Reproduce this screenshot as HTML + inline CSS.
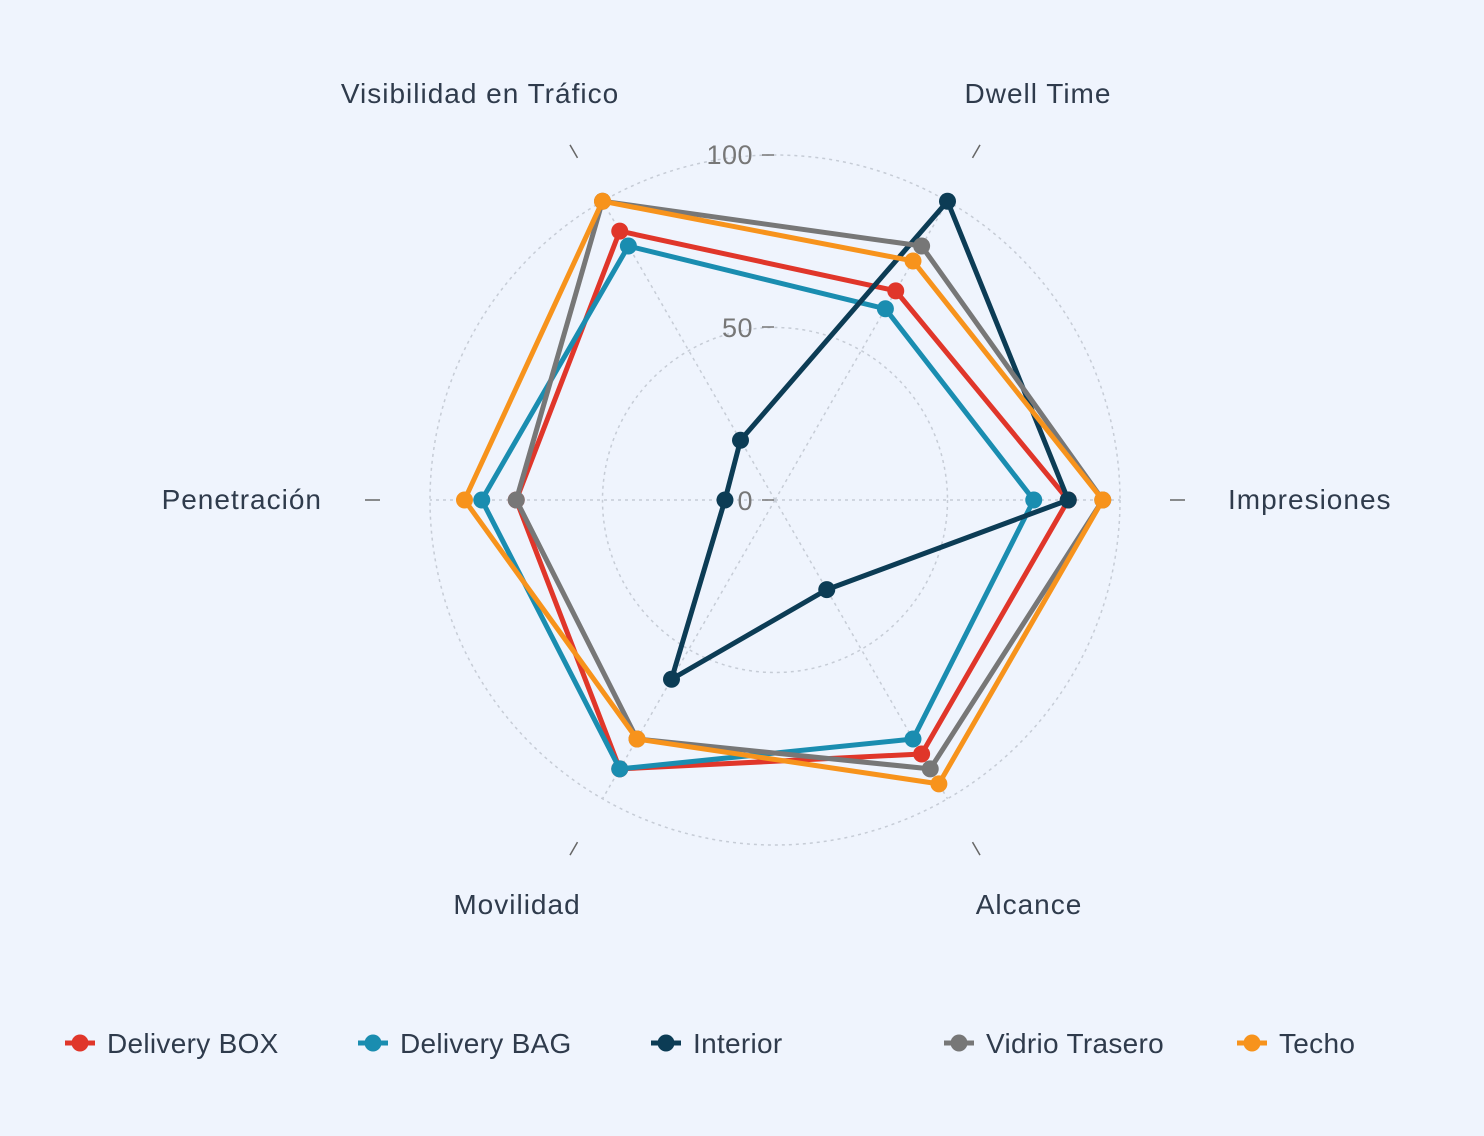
<!DOCTYPE html>
<html><head><meta charset="utf-8">
<style>
html,body{margin:0;padding:0;background:#eff4fd;}
svg{display:block;font-family:"Liberation Sans",Arial,sans-serif;}
</style></head>
<body>
<svg id="c" width="1484" height="1136" xmlns="http://www.w3.org/2000/svg">
<rect width="1484" height="1136" fill="#eff4fd"/>
<g id="grid"></g>
<g id="series"></g>
<g font-size="28" fill="#2f3b4c" letter-spacing="1">
<text x="480" y="103" text-anchor="middle">Visibilidad en Tráfico</text>
<text x="1038" y="103" text-anchor="middle">Dwell Time</text>
<text x="322" y="509" text-anchor="end">Penetración</text>
<text x="1228" y="509">Impresiones</text>
<text x="517" y="914" text-anchor="middle">Movilidad</text>
<text x="1029" y="914" text-anchor="middle">Alcance</text>
</g>
<g font-size="27" fill="#777" text-anchor="end" letter-spacing="0.5">
<text x="753" y="164">100</text>
<text x="753" y="337">50</text>
<text x="753" y="510">0</text>
</g>
<g stroke="#777" stroke-width="1.5">
<line x1="762" y1="155" x2="774" y2="155"/>
<line x1="762" y1="327" x2="774" y2="327"/>
<line x1="762" y1="500" x2="774" y2="500"/>
</g>
<g id="legend" font-size="28" fill="#2f3b4c" letter-spacing="0.3"></g>
</svg>
<script>
var cx=775,cy=500,k=3.45,NS="http://www.w3.org/2000/svg";
function el(t,a,p){var e=document.createElementNS(NS,t);for(var n in a)e.setAttribute(n,a[n]);p.appendChild(e);return e;}
var g=document.getElementById('grid');
[50,100].forEach(function(v){el('circle',{cx:cx,cy:cy,r:v*k,fill:'none',stroke:'#c6ccd6','stroke-width':1.5,'stroke-dasharray':'3,4'},g);});
var angs=[0,60,120,180,240,300];
angs.forEach(function(a){var r=a*Math.PI/180,c=Math.cos(r),s=-Math.sin(r);
el('line',{x1:cx,y1:cy,x2:cx+c*345,y2:cy+s*345,stroke:'#c6ccd6','stroke-width':1.5,'stroke-dasharray':'3,4'},g);
el('line',{x1:cx+c*395,y1:cy+s*395,x2:cx+c*410,y2:cy+s*410,stroke:'#666','stroke-width':1.5},g);});
var S=[
["Delivery BOX","#e0362a",[85,70,90,75,90,85]],
["Delivery BAG","#1a8db0",[75,64,85,85,90,80]],
["Interior","#0c3c55",[85,100,20,14.5,60,30]],
["Vidrio Trasero","#777777",[95,85,100,75,80,90]],
["Techo","#f7931c",[95,80,100,90,80,95]]];
var sg=document.getElementById('series');
S.forEach(function(s){var pts=s[2].map(function(v,i){var r=angs[i]*Math.PI/180;return [cx+Math.cos(r)*v*k,cy-Math.sin(r)*v*k];});
el('polygon',{points:pts.map(function(p){return p.join(',')}).join(' '),fill:'none',stroke:s[1],'stroke-width':5,'stroke-linejoin':'round'},sg);
pts.forEach(function(p){el('circle',{cx:p[0],cy:p[1],r:8.5,fill:s[1]},sg);});});
var lg=document.getElementById('legend');var xs=[65,358,651,944,1237];
S.forEach(function(s,i){var x=xs[i];
el('line',{x1:x,y1:1043,x2:x+30,y2:1043,stroke:s[1],'stroke-width':5},lg);
el('circle',{cx:x+15,cy:1043,r:8.5,fill:s[1]},lg);
var t=el('text',{x:x+42,y:1053},lg);t.textContent=s[0];});
</script>
</body></html>
